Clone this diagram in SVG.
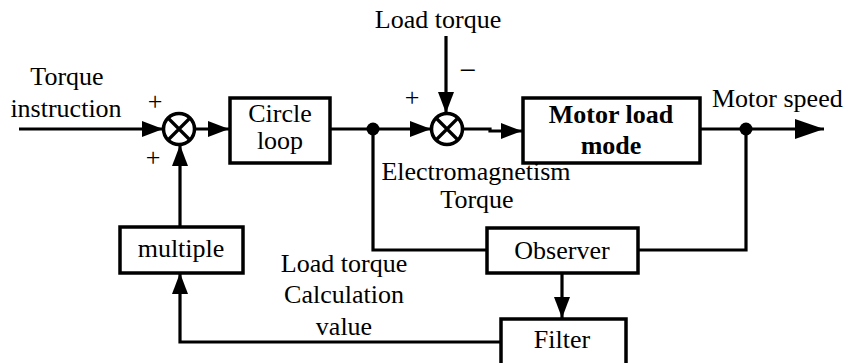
<svg xmlns="http://www.w3.org/2000/svg" width="846" height="363" viewBox="0 0 846 363">
<style>
text{font-family:"Liberation Serif","Times New Roman","DejaVu Serif",serif;font-size:26px;fill:#000}
.c{text-anchor:middle}
.b{font-weight:bold}
.box{fill:#fff;stroke:#000;stroke-width:3.5}
.ln{fill:none;stroke:#000;stroke-width:3.2}
.sum{fill:#fff;stroke:#000;stroke-width:3.5}
.pm{font-size:26px;text-anchor:middle}
</style>
<defs>
<marker id="ah" markerUnits="userSpaceOnUse" markerWidth="22" markerHeight="16" refX="21" refY="8" orient="auto">
<path d="M0,0 L21,8 L0,16 Z" fill="#000"/>
</marker>
<marker id="ahb" markerUnits="userSpaceOnUse" markerWidth="30" markerHeight="20" refX="29" refY="10" orient="auto">
<path d="M0,0 L29,10 L0,20 Z" fill="#000"/>
</marker>
</defs>
<g id="connectors">
<line class="ln" x1="19" y1="129" x2="163" y2="129" marker-end="url(#ah)"/>
<line class="ln" x1="195" y1="129" x2="229" y2="129" marker-end="url(#ah)"/>
<line class="ln" x1="330" y1="129" x2="431" y2="129" marker-end="url(#ah)"/>
<polyline class="ln" points="463,129 490,129 490,131 522,131" marker-end="url(#ah)"/>
<line class="ln" x1="700" y1="129" x2="824" y2="129" marker-end="url(#ahb)"/>
<polyline class="ln" points="373,129 373,250 487,250"/>
<polyline class="ln" points="746,129 746,250 638,250"/>
<line class="ln" x1="562" y1="273" x2="562" y2="318" marker-end="url(#ah)"/>
<polyline class="ln" points="501,342 180,342 180,273" marker-end="url(#ah)"/>
<line class="ln" x1="180" y1="227" x2="180" y2="145" marker-end="url(#ah)"/>
<line class="ln" x1="446" y1="36" x2="446" y2="113" marker-end="url(#ah)"/>
<circle cx="373" cy="129" r="6.5" fill="#000"/>
<circle cx="746" cy="129" r="6.5" fill="#000"/>
</g>
<g id="sum1">
<circle class="sum" cx="179" cy="129" r="15.5"/>
<path class="ln" d="M168,118 L190,140 M190,118 L168,140"/>
<text class="pm" x="155" y="110">+</text>
<text class="pm" x="153" y="166">+</text>
</g>
<g id="sum2">
<circle class="sum" cx="447" cy="129" r="15.5"/>
<path class="ln" d="M436,118 L458,140 M458,118 L436,140"/>
<text class="pm" x="412" y="106">+</text>
<text class="pm" x="468" y="80" style="font-size:30px">−</text>
</g>
<g id="circle-loop">
<rect class="box" x="230" y="98" width="100" height="65"/>
<text class="c" x="280" y="122">Circle</text>
<text class="c" x="280" y="149">loop</text>
</g>
<g id="motor-load-mode">
<rect class="box" x="523" y="98" width="177" height="65"/>
<text class="c b" x="611" y="123">Motor load</text>
<text class="c b" x="611" y="154">mode</text>
</g>
<g id="observer">
<rect class="box" x="487" y="228" width="151" height="45"/>
<text class="c" x="562" y="259">Observer</text>
</g>
<g id="multiple">
<rect class="box" x="120" y="227" width="123" height="46"/>
<text class="c" x="181" y="257">multiple</text>
</g>
<g id="filter">
<rect class="box" x="501" y="319" width="125" height="55"/>
<text class="c" x="562" y="348">Filter</text>
</g>
<g id="labels">
<text class="c" x="67" y="85">Torque</text>
<text class="c" x="66" y="117">instruction</text>
<text class="c" x="438" y="28">Load torque</text>
<text x="712" y="107">Motor speed</text>
<text class="c" x="476" y="180">Electromagnetism</text>
<text class="c" x="477" y="208">Torque</text>
<text class="c" x="344" y="272">Load torque</text>
<text class="c" x="344" y="303">Calculation</text>
<text class="c" x="344" y="335">value</text>
</g>
</svg>
